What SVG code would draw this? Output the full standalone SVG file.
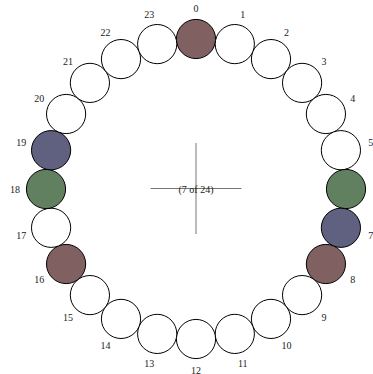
<svg xmlns="http://www.w3.org/2000/svg" width="373" height="374" viewBox="0 0 373 374">
<style>
.n{fill:#fff;stroke:#000;stroke-width:1}
.r{fill:#806060}
.g{fill:#608060}
.b{fill:#606080}
.l{font-family:"Liberation Serif","DejaVu Serif",serif;font-size:10px;fill:#222;text-anchor:middle;dominant-baseline:central}
.x{stroke:#777;stroke-width:1}
</style>
<rect width="373" height="374" fill="#fff"/>
<g id="connectors">
<line class="x" x1="150.5" y1="188.5" x2="241.5" y2="188.5"/>
<line class="x" x1="196" y1="143" x2="196" y2="234"/>
</g>
<g id="center"><text class="l" x="196" y="189">(7 of 24)</text></g>
<g id="n0"><circle class="n r" cx="196.0" cy="39.0" r="19.6"/><text class="l" x="196.0" y="8.0">0</text></g>
<g id="n1"><circle class="n" cx="234.8" cy="44.1" r="19.6"/><text class="l" x="242.8" y="14.2">1</text></g>
<g id="n2"><circle class="n" cx="271.0" cy="59.1" r="19.6"/><text class="l" x="286.5" y="32.2">2</text></g>
<g id="n3"><circle class="n" cx="302.1" cy="82.9" r="19.6"/><text class="l" x="324.0" y="61.0">3</text></g>
<g id="n4"><circle class="n" cx="325.9" cy="114.0" r="19.6"/><text class="l" x="352.8" y="98.5">4</text></g>
<g id="n5"><circle class="n" cx="340.9" cy="150.2" r="19.6"/><text class="l" x="370.8" y="142.2">5</text></g>
<g id="n6"><circle class="n g" cx="346.0" cy="189.0" r="19.6"/></g>
<g id="n7"><circle class="n b" cx="340.9" cy="227.8" r="19.6"/><text class="l" x="370.8" y="235.8">7</text></g>
<g id="n8"><circle class="n r" cx="325.9" cy="264.0" r="19.6"/><text class="l" x="352.8" y="279.5">8</text></g>
<g id="n9"><circle class="n" cx="302.1" cy="295.1" r="19.6"/><text class="l" x="324.0" y="317.0">9</text></g>
<g id="n10"><circle class="n" cx="271.0" cy="318.9" r="19.6"/><text class="l" x="286.5" y="345.8">10</text></g>
<g id="n11"><circle class="n" cx="234.8" cy="333.9" r="19.6"/><text class="l" x="242.8" y="363.8">11</text></g>
<g id="n12"><circle class="n" cx="196.0" cy="339.0" r="19.6"/><text class="l" x="196.0" y="370.0">12</text></g>
<g id="n13"><circle class="n" cx="157.2" cy="333.9" r="19.6"/><text class="l" x="149.2" y="363.8">13</text></g>
<g id="n14"><circle class="n" cx="121.0" cy="318.9" r="19.6"/><text class="l" x="105.5" y="345.8">14</text></g>
<g id="n15"><circle class="n" cx="89.9" cy="295.1" r="19.6"/><text class="l" x="68.0" y="317.0">15</text></g>
<g id="n16"><circle class="n r" cx="66.1" cy="264.0" r="19.6"/><text class="l" x="39.2" y="279.5">16</text></g>
<g id="n17"><circle class="n" cx="51.1" cy="227.8" r="19.6"/><text class="l" x="21.2" y="235.8">17</text></g>
<g id="n18"><circle class="n g" cx="46.0" cy="189.0" r="19.6"/><text class="l" x="15.0" y="189.0">18</text></g>
<g id="n19"><circle class="n b" cx="51.1" cy="150.2" r="19.6"/><text class="l" x="21.2" y="142.2">19</text></g>
<g id="n20"><circle class="n" cx="66.1" cy="114.0" r="19.6"/><text class="l" x="39.2" y="98.5">20</text></g>
<g id="n21"><circle class="n" cx="89.9" cy="82.9" r="19.6"/><text class="l" x="68.0" y="61.0">21</text></g>
<g id="n22"><circle class="n" cx="121.0" cy="59.1" r="19.6"/><text class="l" x="105.5" y="32.2">22</text></g>
<g id="n23"><circle class="n" cx="157.2" cy="44.1" r="19.6"/><text class="l" x="149.2" y="14.2">23</text></g>
</svg>
